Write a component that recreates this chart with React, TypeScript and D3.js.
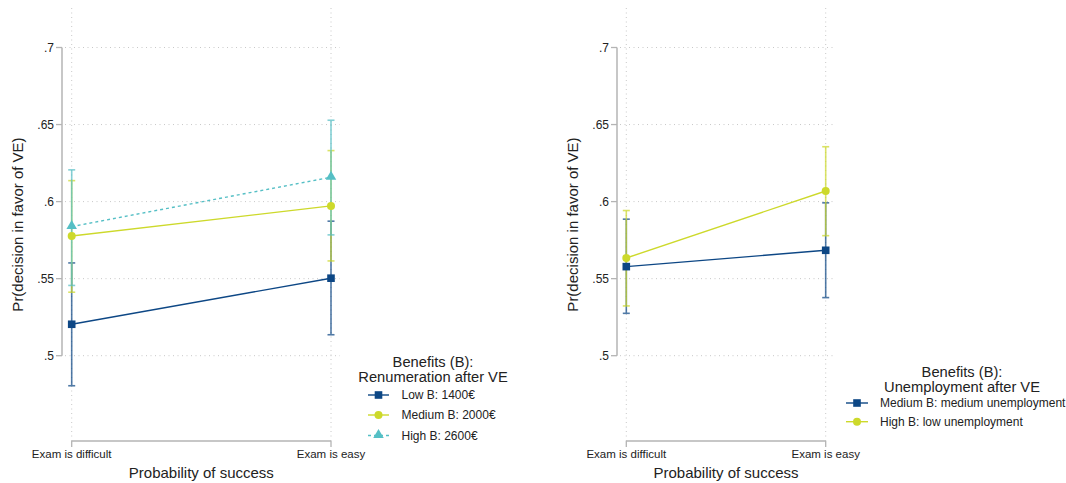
import React from "react";
import * as d3 from "d3";

const categories = ["Exam is difficult", "Exam is easy"];
const yTicks = [0.5, 0.55, 0.6, 0.65, 0.7];

// Left panel: Renumeration after VE
const leftSeriesNames = ["Low B: 1400€", "Medium B: 2000€", "High B: 2600€"];
const leftEstimates = [
  [0.5204, 0.5503],
  [0.5777, 0.5972],
  [0.5838, 0.6158],
];
const leftLower = [
  [0.4805, 0.5136],
  [0.5412, 0.5615],
  [0.5456, 0.5784],
];
const leftUpper = [
  [0.5602, 0.5873],
  [0.6136, 0.6331],
  [0.6206, 0.6528],
];

// Right panel: Unemployment after VE
const rightSeriesNames = ["Medium B: medium unemployment", "High B: low unemployment"];
const rightEstimates = [
  [0.5578, 0.5684],
  [0.5634, 0.6069],
];
const rightLower = [
  [0.5275, 0.5377],
  [0.5323, 0.5779],
];
const rightUpper = [
  [0.5886, 0.5992],
  [0.5942, 0.6356],
];

const COLORS = ["#0d4785", "#cdd92b", "#55bfc5"];
const MARKERS = ["square", "circle", "triangle"];
const DASH = [null, null, "3,3"];

const FONT = "'Liberation Sans', Arial, Helvetica, sans-serif";

function fmt(v: number) {
  return d3.format(".2~f")(v).replace(/^0\./, ".");
}

function Marker({ type, x, y, color }: { type: string; x: number; y: number; color: string }) {
  if (type === "square") return <rect x={x - 3.8} y={y - 3.8} width={7.6} height={7.6} fill={color} />;
  if (type === "circle") return <circle cx={x} cy={y} r={4} fill={color} />;
  const s = d3.symbol().type(d3.symbolTriangle).size(48)();
  return <path d={s || ""} transform={`translate(${x},${y - 0.5})`} fill={color} />;
}

type PanelProps = {
  axisX: number;
  xRange: [number, number];
  names: string[];
  est: number[][];
  lo: number[][];
  hi: number[][];
  colorIdx: number[];
  legend: { titleX: number; title1Y: number; title2Y: number; title2: string; lineX0: number; lineX1: number; textX: number; rowY: number[] };
};

function Panel({ axisX, xRange, names, est, lo, hi, colorIdx, legend }: PanelProps) {
  const y = d3.scaleLinear().domain([0.5, 0.7]).range([355.7, 47.5]);
  const x = d3.scalePoint<string>().domain(categories).range(xRange).padding(0);
  const plotTop = 8;
  const plotBottom = 441;
  const gridX0 = axisX + 3;
  const gridX1 = xRange[1] + 9;
  const line = d3
    .line<[number, number]>()
    .x((d) => d[0])
    .y((d) => d[1]);
  return (
    <g>
      {/* grid */}
      {yTicks.map((t) => (
        <line key={"gy" + t} x1={gridX0} x2={gridX1} y1={y(t)} y2={y(t)} stroke="#c8c8c8" strokeWidth={1} strokeDasharray="1,3.5" />
      ))}
      {categories.map((c) => (
        <line key={"gx" + c} x1={x(c)} x2={x(c)} y1={plotTop} y2={plotBottom} stroke="#c8c8c8" strokeWidth={1} strokeDasharray="1,3.5" />
      ))}
      {/* y axis */}
      <line x1={axisX} x2={axisX} y1={y(0.7)} y2={y(0.5)} stroke="#b4b4b4" strokeWidth={1.5} />
      {yTicks.map((t) => (
        <g key={"ty" + t}>
          <line x1={axisX - 6} x2={axisX} y1={y(t)} y2={y(t)} stroke="#b4b4b4" strokeWidth={1.3} />
          <text x={axisX - 8} y={y(t)} dy="0.35em" textAnchor="end" fontSize={12} fill="#222" fontFamily={FONT}>
            {fmt(t)}
          </text>
        </g>
      ))}
      <text
        transform={`translate(${axisX - 44},${(plotTop + plotBottom) / 2}) rotate(-90)`}
        textAnchor="middle"
        dy="0.35em"
        fontSize={15}
        fill="#222"
        fontFamily={FONT}
      >
        Pr(decision in favor of VE)
      </text>
      {/* x axis */}
      <line x1={xRange[0]} x2={xRange[1]} y1={plotBottom} y2={plotBottom} stroke="#b4b4b4" strokeWidth={1.5} />
      {categories.map((c) => (
        <g key={"tx" + c}>
          <line x1={x(c)} x2={x(c)} y1={plotBottom} y2={plotBottom + 6} stroke="#b4b4b4" strokeWidth={1.3} />
          <text x={x(c)} y={plotBottom + 17} textAnchor="middle" fontSize={11.5} fill="#222" fontFamily={FONT}>
            {c}
          </text>
        </g>
      ))}
      <text x={(xRange[0] + xRange[1]) / 2} y={plotBottom + 37} textAnchor="middle" fontSize={15} fill="#222" fontFamily={FONT}>
        Probability of success
      </text>
      {/* error bars */}
      {names.map((n, si) => (
        <g key={"eb" + n} opacity={0.72}>
          {categories.map((c, ci) => {
            const cx = x(c) as number;
            const col = COLORS[colorIdx[si]];
            return (
              <g key={c}>
                <line x1={cx} x2={cx} y1={y(lo[si][ci])} y2={y(hi[si][ci])} stroke={col} strokeWidth={1.6} />
                <line x1={cx - 3.5} x2={cx + 3.5} y1={y(lo[si][ci])} y2={y(lo[si][ci])} stroke={col} strokeWidth={1.6} />
                <line x1={cx - 3.5} x2={cx + 3.5} y1={y(hi[si][ci])} y2={y(hi[si][ci])} stroke={col} strokeWidth={1.6} />
              </g>
            );
          })}
        </g>
      ))}
      {/* lines and markers */}
      {names.map((n, si) => {
        const pts: [number, number][] = categories.map((c, ci) => [x(c) as number, y(est[si][ci])]);
        const col = COLORS[colorIdx[si]];
        const dash = DASH[colorIdx[si]];
        return (
          <g key={"ln" + n}>
            <path d={line(pts) || ""} fill="none" stroke={col} strokeWidth={1.4} strokeDasharray={dash || undefined} />
            {pts.map((p, i) => (
              <Marker key={i} type={MARKERS[colorIdx[si]]} x={p[0]} y={p[1]} color={col} />
            ))}
          </g>
        );
      })}
      {/* legend */}
      <text x={legend.titleX} y={legend.title1Y} textAnchor="middle" fontSize={14.7} fill="#222" fontFamily={FONT}>
        Benefits (B):
      </text>
      <text x={legend.titleX} y={legend.title2Y} textAnchor="middle" fontSize={14.7} fill="#222" fontFamily={FONT}>
        {legend.title2}
      </text>
      {names.map((n, si) => {
        const col = COLORS[colorIdx[si]];
        const dash = DASH[colorIdx[si]];
        const ry = legend.rowY[si];
        const mx = (legend.lineX0 + legend.lineX1) / 2;
        return (
          <g key={"lg" + n}>
            <line x1={legend.lineX0} x2={legend.lineX1} y1={ry} y2={ry} stroke={col} strokeWidth={1.4} strokeDasharray={dash || undefined} />
            <Marker type={MARKERS[colorIdx[si]]} x={mx} y={ry} color={col} />
            <text x={legend.textX} y={ry} dy="0.35em" fontSize={12} fill="#222" fontFamily={FONT}>
              {n}
            </text>
          </g>
        );
      })}
    </g>
  );
}

export default function App() {
  return (
    <svg width={1066} height={483} style={{ position: "absolute", left: 0, top: 0, background: "#fff" }}>
      <rect width={1066} height={483} fill="#fff" />
      <Panel
        axisX={62}
        xRange={[71.7, 331]}
        names={leftSeriesNames}
        est={leftEstimates}
        lo={leftLower}
        hi={leftUpper}
        colorIdx={[0, 1, 2]}
        legend={{ titleX: 433, title1Y: 366.5, title2Y: 381.5, title2: "Renumeration after VE", lineX0: 368, lineX1: 389, textX: 401.5, rowY: [395, 415, 435.5] }}
      />
      <Panel
        axisX={617}
        xRange={[626.3, 825.7]}
        names={rightSeriesNames}
        est={rightEstimates}
        lo={rightLower}
        hi={rightUpper}
        colorIdx={[0, 1]}
        legend={{ titleX: 962, title1Y: 377, title2Y: 391.5, title2: "Unemployment after VE", lineX0: 846, lineX1: 868, textX: 880, rowY: [403, 421.7] }}
      />
    </svg>
  );
}
